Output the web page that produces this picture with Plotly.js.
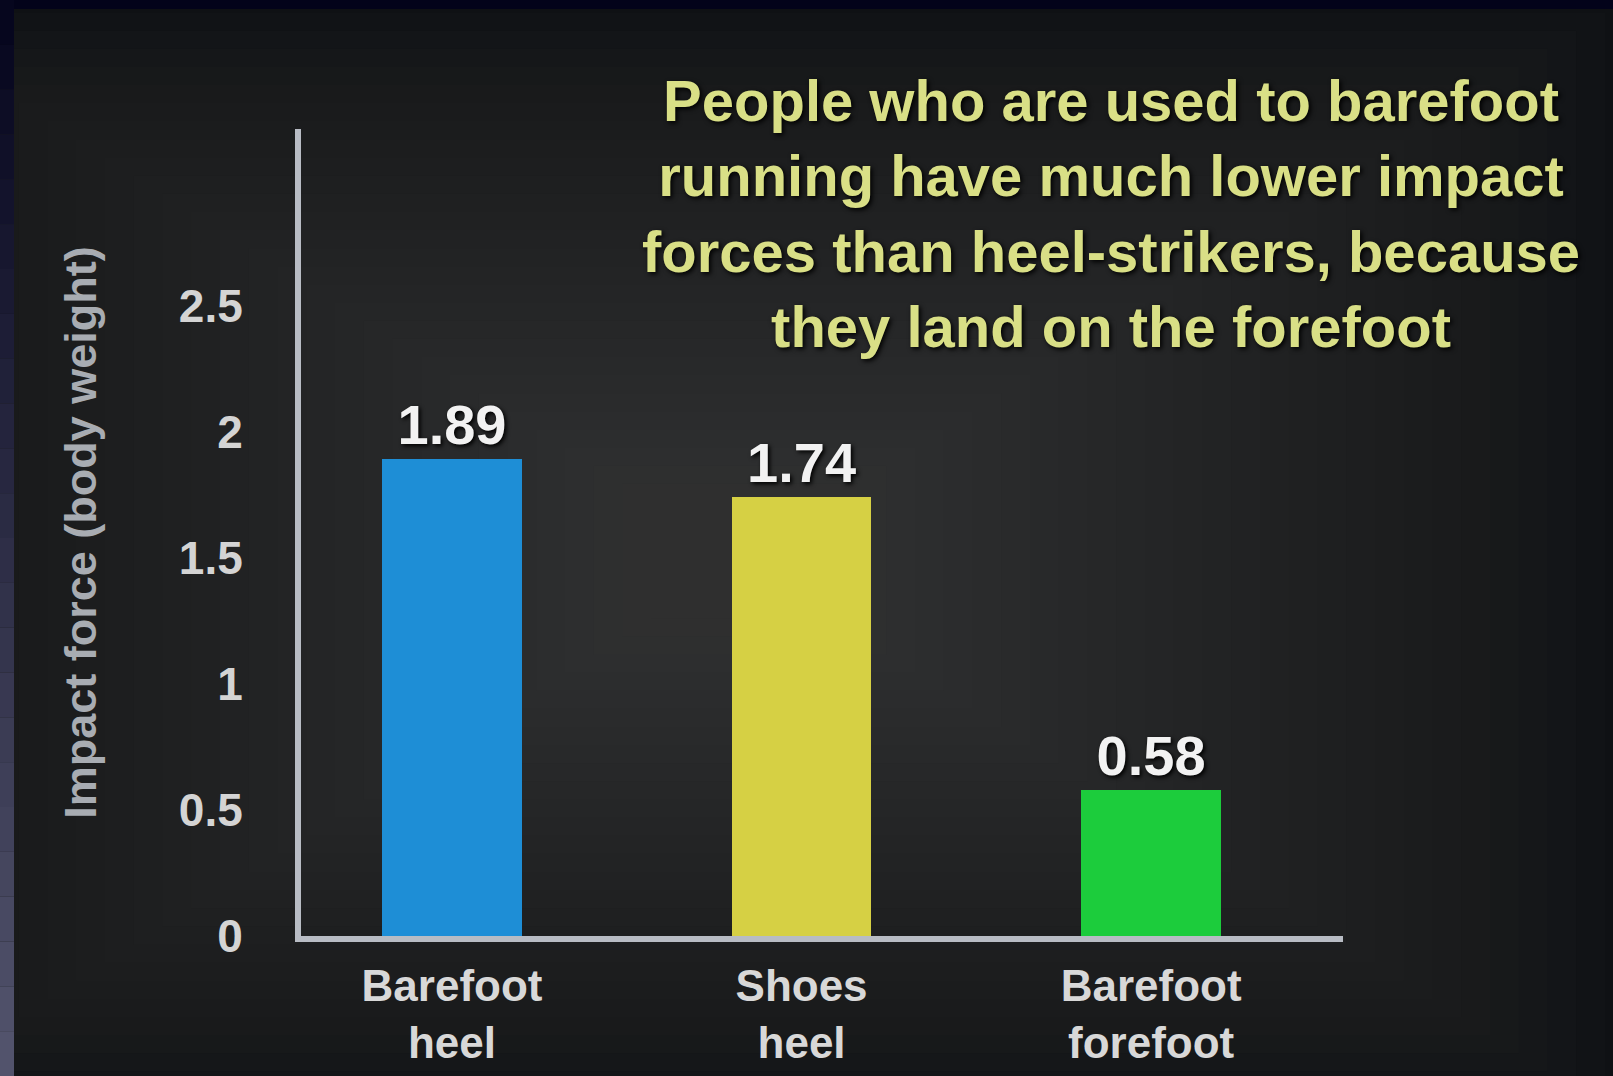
<!DOCTYPE html>
<html>
<head>
<meta charset="utf-8">
<script src="https://cdn.plot.ly/plotly-3.0.1.min.js"></script>
<style>html,body{margin:0;padding:0;background:#07090c;}#chart{width:1613px;height:1076px;}</style>
</head>
<body>
<div id="chart"></div>
<script>
const categories = ["Barefoot<br>heel", "Shoes<br>heel", "Barefoot<br>forefoot"];
const impactForce = [1.89, 1.74, 0.58];
const valueLabels = ["1.89", "1.74", "0.58"];
const barColors = ["#1e8ed6", "#d6d044", "#1ccc3c"];
const yTickValues = [0, 0.5, 1, 1.5, 2, 2.5];
const yTickLabels = ["0", "0.5", "1", "1.5", "2", "2.5"];
const yTitle = "Impact force (body weight)";
const headline = "People who are used to barefoot<br>running have much lower impact<br>forces than heel-strikers, because<br>they land on the forefoot";

// page geometry (pixels) used only to place background decoration
const W = 1613, H = 1076, ML = 301, MR = 270, MT = 129, MB = 140;
const PW = W - ML - MR, PH = H - MT - MB;
const px = v => (v - ML) / PW;
const py = v => (H - MB - v) / PH;

const shapes = [];
// soft glow around the middle of the picture
const steps = 32;
for (let i = 0; i < steps; i++) {
  const f = 1 - i / steps;
  const cx = 740, cy = 560;
  const hw = 60 + f * 920, hh = 40 + f * 580;
  shapes.push({type: "rect", xref: "paper", yref: "paper", layer: "below",
    x0: px(cx - hw), x1: px(cx + hw), y0: py(cy + hh), y1: py(cy - hh),
    fillcolor: "rgba(64,68,68,0.045)", line: {width: 0}});
}
// top navy band
shapes.push({type: "rect", xref: "paper", yref: "paper", layer: "below",
  x0: px(0), x1: px(W), y0: py(9), y1: py(-5), fillcolor: "#03031a", line: {width: 0}});
// left strip, dark navy at top to grey-violet at bottom
const stripN = 24;
for (let i = 0; i < stripN; i++) {
  const t = i / (stripN - 1);
  const r = Math.round(6 + t * (82 - 6)), g = Math.round(6 + t * (83 - 6)), b = Math.round(30 + t * (108 - 30));
  const t0 = i * H / stripN, t1 = (i + 1) * H / stripN;
  shapes.push({type: "rect", xref: "paper", yref: "paper", layer: "below",
    x0: px(0), x1: px(14), y0: py(t1), y1: py(t0), fillcolor: `rgb(${r},${g},${b})`, line: {width: 0}});
}

const trace = {
  type: "bar",
  x: [0, 1, 2],
  y: impactForce,
  width: 0.40,
  marker: {color: barColors, line: {width: 0}},
  text: valueLabels,
  textposition: "outside",
  cliponaxis: false,
  textfont: {family: "Liberation Sans, Arial, sans-serif", size: 56, color: "#f2f2f2", weight: 700, shadow: "2px 2px 4px #000"},
  hoverinfo: "skip"
};

const layout = {
  width: W,
  height: H,
  paper_bgcolor: "#07090c",
  plot_bgcolor: "rgba(0,0,0,0)",
  margin: {l: ML, r: MR, t: MT, b: MB, pad: 0},
  showlegend: false,
  bargap: 0,
  xaxis: {
    range: [-0.432, 2.549],
    tickvals: [0, 1, 2],
    ticktext: categories,
    showgrid: false,
    zeroline: false,
    showline: true,
    linecolor: "#b8bcc4",
    linewidth: 6,
    ticks: "",
    ticklabelstandoff: 6,
    tickfont: {family: "Liberation Sans, Arial, sans-serif", size: 44, color: "#d8d8d8", weight: 700},
    fixedrange: true
  },
  yaxis: {
    range: [0, 3.2],
    tickvals: yTickValues,
    ticktext: yTickLabels,
    showgrid: false,
    zeroline: false,
    showline: true,
    linecolor: "#b8bcc4",
    linewidth: 6,
    ticks: "",
    ticklabelstandoff: 43,
    tickfont: {family: "Liberation Sans, Arial, sans-serif", size: 46, color: "#d4d4d4", weight: 700},
    title: {text: yTitle, standoff: 70, font: {family: "Liberation Sans Narrow, Arial Narrow, sans-serif", size: 45, color: "#a8acb2", weight: 700}},
    automargin: false,
    fixedrange: true
  },
  shapes: shapes,
  annotations: [{
    text: headline,
    xref: "paper", yref: "paper",
    x: 0.777, y: 1.078,
    xanchor: "center", yanchor: "top",
    align: "center",
    showarrow: false,
    font: {family: "Liberation Sans, Arial, sans-serif", size: 58, color: "#d9df86", weight: 700, shadow: "2px 2px 5px #000"}
  }]
};

Plotly.newPlot("chart", [trace], layout, {displayModeBar: false, staticPlot: true});
</script>
</body>
</html>
